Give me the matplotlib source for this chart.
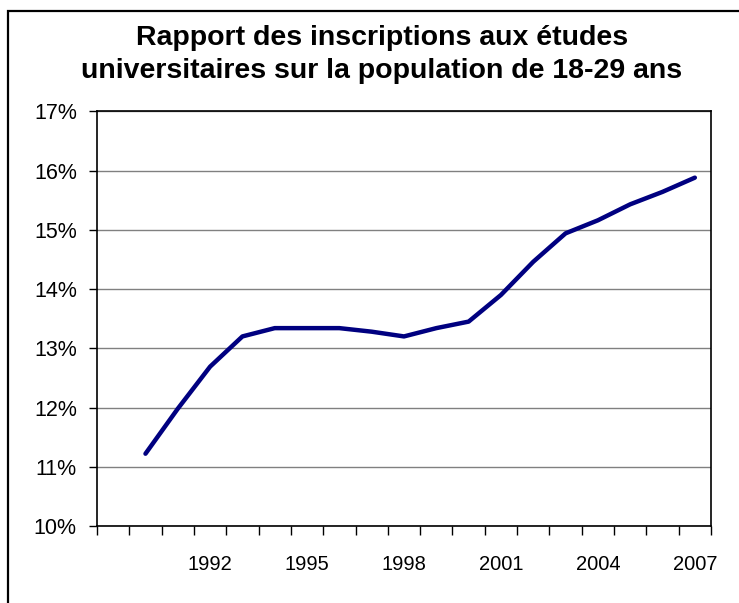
import matplotlib
matplotlib.use("Agg")
import matplotlib.pyplot as plt
import matplotlib.ticker as mticker
from matplotlib.patches import Rectangle

# categories on the x axis (first one has no data)
categories = list(range(1989, 2008))
years = list(range(1990, 2008))
ratio_pct = [11.22, 11.98, 12.69, 13.20, 13.34, 13.34, 13.34, 13.28, 13.20,
             13.34, 13.45, 13.90, 14.46, 14.94, 15.16, 15.43, 15.64, 15.88]
label_years = [1992, 1995, 1998, 2001, 2004, 2007]
title_lines = ["Rapport des inscriptions aux études",
               "universitaires sur la population de 18-29 ans"]

plt.rcParams['font.family'] = ['Liberation Sans', 'DejaVu Sans']

W, H = 739, 603
fig = plt.figure(figsize=(W / 100, H / 100), dpi=100)
ax = fig.add_axes([97 / W, 1 - 526 / H, (711 - 97) / W, (526 - 111.3) / H])

x = [y - categories[0] for y in years]
ax.plot(x, ratio_pct, color="#000080", linewidth=3.2, solid_capstyle="round",
        solid_joinstyle="round", zorder=3)

ax.set_ylim(10, 17)
ax.set_xlim(-0.5, len(categories) - 0.5)

# y axis
ax.yaxis.set_major_locator(mticker.MultipleLocator(1))
ax.yaxis.set_major_formatter(mticker.FuncFormatter(lambda v, p: f"{v:.0f}%"))
ax.tick_params(axis="y", direction="out", length=6, width=1, pad=8.5,
               labelsize=15.5, colors="black")
ax.grid(axis="y", color="#808080", linewidth=1.0, zorder=1)

# x axis: ticks between categories, labels at category centres
ax.set_xticks([i - 0.5 for i in range(len(categories) + 1)])
ax.set_xticklabels([])
ax.tick_params(axis="x", which="major", direction="out", length=6.5, width=1)
ax.set_xticks([c - categories[0] for c in label_years], minor=True)
ax.set_xticklabels([str(c) for c in label_years], minor=True)
ax.tick_params(axis="x", which="minor", length=0, pad=21, labelsize=14.5)

for s in ax.spines.values():
    s.set_color("black")
    s.set_linewidth(1.2)

# titre
fig.text(382 / W, 1 - 45 / H, title_lines[0], ha="center", va="baseline",
         fontsize=20.5, fontweight="bold")
fig.text(382 / W, 1 - 78 / H, title_lines[1], ha="center", va="baseline",
         fontsize=20.5, fontweight="bold")

# chart area border (cropped on right and bottom)
fig.patches.append(Rectangle((8 / W, -0.1), 1.2, 1.1 - 11.5 / H,
                             transform=fig.transFigure, fill=False,
                             edgecolor="black", linewidth=1.6))

fig.savefig("out.png", dpi=100)
